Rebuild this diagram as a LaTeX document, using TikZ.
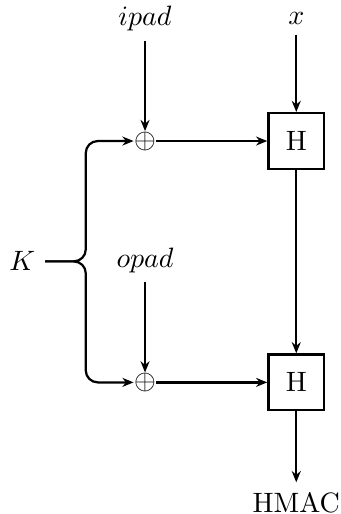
\documentclass[tikz,border=0pt]{standalone}
\usepackage{tikz}
\usetikzlibrary{arrows.meta,positioning}
\usepackage{amsmath}
\tikzset{
  hbox/.style={rectangle,draw,thick,minimum size=0.7cm},
  xr/.style={inner sep=0pt},
  arr/.style={-{Stealth[length=4pt,width=3.2pt]},thick},
}

\begin{document}
\begin{tikzpicture}[node distance=1.13cm and 1.39cm]
  \useasboundingbox (-1.82,1.77) rectangle (2.45,-4.68);
  \node[xr] (xor1) {$\oplus$};
  \node[hbox, right=of xor1] (h1) {H};
  \node[xr, below=2.78cm of xor1] (xor2) {$\oplus$};
  \node[hbox, right=of xor2] (h2) {H};
  \node[above=of xor1] (ipad) {$ipad$};
  \node[above=0.97cm of h1] (x) {$x$};
  \node[above=of xor2] (opad) {$opad$};
  \node[below=0.89cm of h2] (hmac) {HMAC};
  \node (K) at (-1.54,-1.51) {$K$};
  \coordinate[left=0.6cm of xor1] (bt);
  \coordinate[left=0.6cm of xor2] (bb);

  \draw[arr] (ipad) -- (xor1);
  \draw[arr] (x) -- (h1);
  \draw[arr] (opad) -- (xor2);
  \draw[arr] (xor1) -- (h1);
  \draw[arr] (xor2) -- (h2);
  \draw[arr] (h1) -- (h2);
  \draw[arr] (h2) -- (hmac);
  \draw[arr, rounded corners=0.15cm] (K) -| (bt) -- (xor1);
  \draw[arr, rounded corners=0.15cm] (K) -| (bb) -- (xor2);
\end{tikzpicture}
\end{document}
